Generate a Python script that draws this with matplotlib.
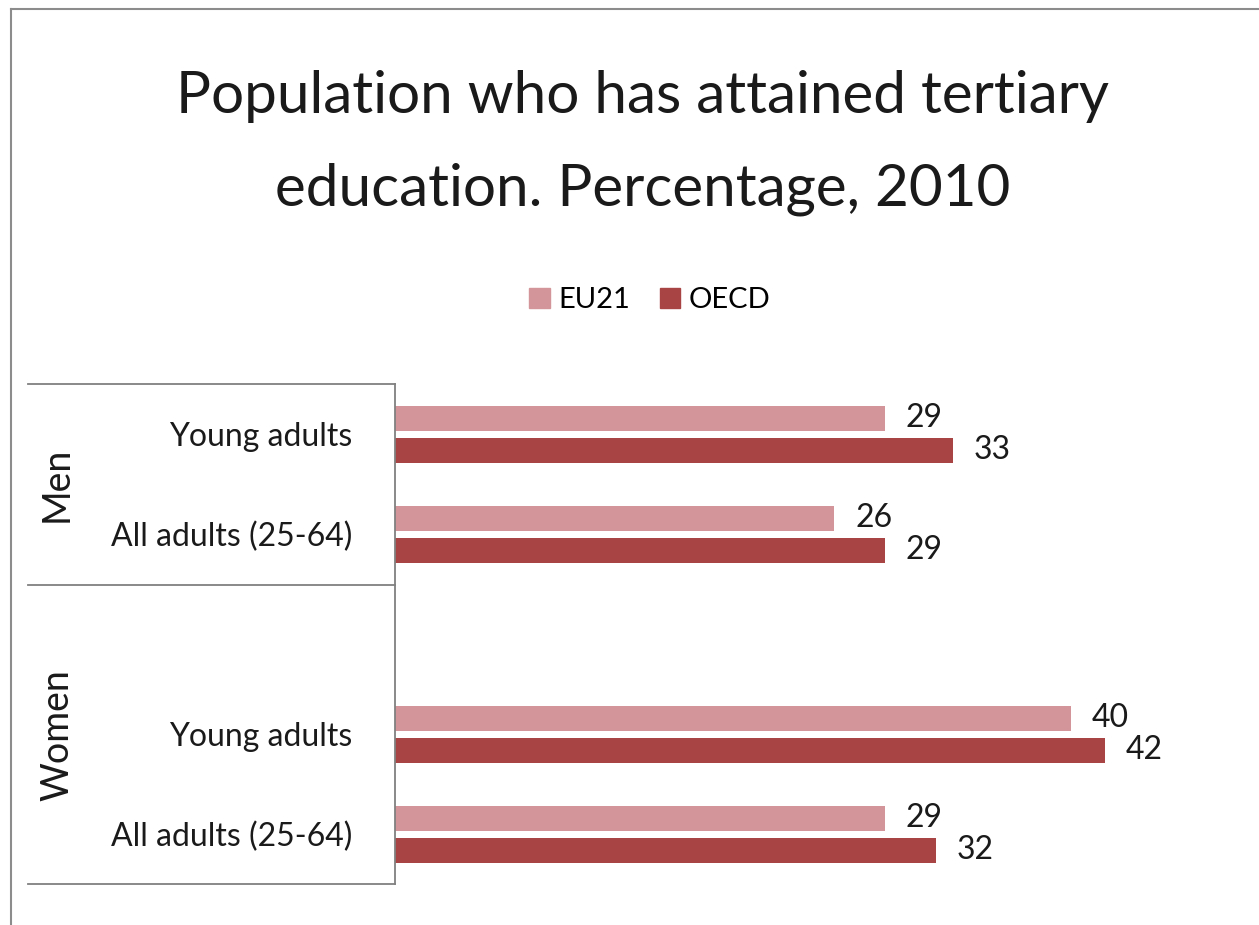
import matplotlib
matplotlib.use("Agg")
import matplotlib.pyplot as plt
from matplotlib.lines import Line2D
from matplotlib.patches import Patch
import numpy as np

plt.rcParams['font.family'] = ['Lato', 'DejaVu Sans']

groups = ["Men", "Women"]
categories = ["Young adults", "All adults (25-64)", "", "Young adults", "All adults (25-64)"]
eu21 = [29, 26, None, 40, 29]
oecd = [33, 29, None, 42, 32]
series_names = ["EU21", "OECD"]
colors = ["#D4959A", "#A94444"]
title_lines = ["Population who has attained tertiary", "education. Percentage, 2010"]

W, H = 1259, 925
fig = plt.figure(figsize=(W / 100, H / 100), dpi=100)

def fx(px):
    return px / W

def fy(py):
    return 1 - py / H

ax_left, ax_right, ax_top, ax_bot = 395, 1240, 384, 884
ax = fig.add_axes([fx(ax_left), fy(ax_bot), fx(ax_right - ax_left), (ax_bot - ax_top) / H])

y = np.arange(len(categories))
h = 0.25
off = 0.16
for vals, name, col, o in [(eu21, series_names[0], colors[0], -off), (oecd, series_names[1], colors[1], off)]:
    idx = [i for i, v in enumerate(vals) if v is not None]
    v = [vals[i] for i in idx]
    bars = ax.barh(y[idx] + o, v, height=h, color=col, label=name)
    for b, val in zip(bars, v):
        ax.annotate(f"{val}", (b.get_width(), b.get_y() + b.get_height() / 2),
                    xytext=(15, 0), textcoords="offset points", ha="left", va="center",
                    fontsize=23, color="#1a1a1a")

ax.set_xlim(0, 50)
ax.set_ylim(len(categories) - 0.5, -0.5)
ticks = [i for i, c in enumerate(categories) if c]
ax.set_yticks(ticks)
ax.set_yticklabels([categories[i] for i in ticks], fontsize=23, color="#1a1a1a")
ax.tick_params(axis="y", length=0, pad=31)
ax.set_xticks([])
for s in ["top", "right", "bottom"]:
    ax.spines[s].set_visible(False)
ax.spines["left"].set_color("#808080")
ax.spines["left"].set_linewidth(1.3)

# table lines on the category side
gray = "#808080"
for py in [384, 585, 884]:
    fig.add_artist(Line2D([fx(28), fx(395)], [fy(py), fy(py)], color=gray, lw=1.3))

# group labels
fig.text(fx(57), fy(484), groups[0], rotation=90, ha="center", va="center", fontsize=27, color="#1a1a1a")
fig.text(fx(57), fy(735), groups[1], rotation=90, ha="center", va="center", fontsize=27, color="#1a1a1a")

# title (two lines)
fig.text(fx(643), fy(113), title_lines[0], ha="center", va="baseline", fontsize=42, color="#1a1a1a")
fig.text(fx(643), fy(205), title_lines[1], ha="center", va="baseline", fontsize=42, color="#1a1a1a")

# legend
handles = [Patch(color=colors[0]), Patch(color=colors[1])]
fig.legend(handles, series_names, loc="center", bbox_to_anchor=(fx(650), fy(300)), ncol=2,
           frameon=False, fontsize=21, handlelength=0.7, handleheight=0.7, handletextpad=0.3,
           columnspacing=1.0)

# outer border (left and top)
fig.add_artist(Line2D([fx(11), fx(11)], [fy(9), 0], color="#8c8c8c", lw=1.5))
fig.add_artist(Line2D([fx(11), 1], [fy(9), fy(9)], color="#8c8c8c", lw=1.5))

fig.savefig("out.png", dpi=100)
